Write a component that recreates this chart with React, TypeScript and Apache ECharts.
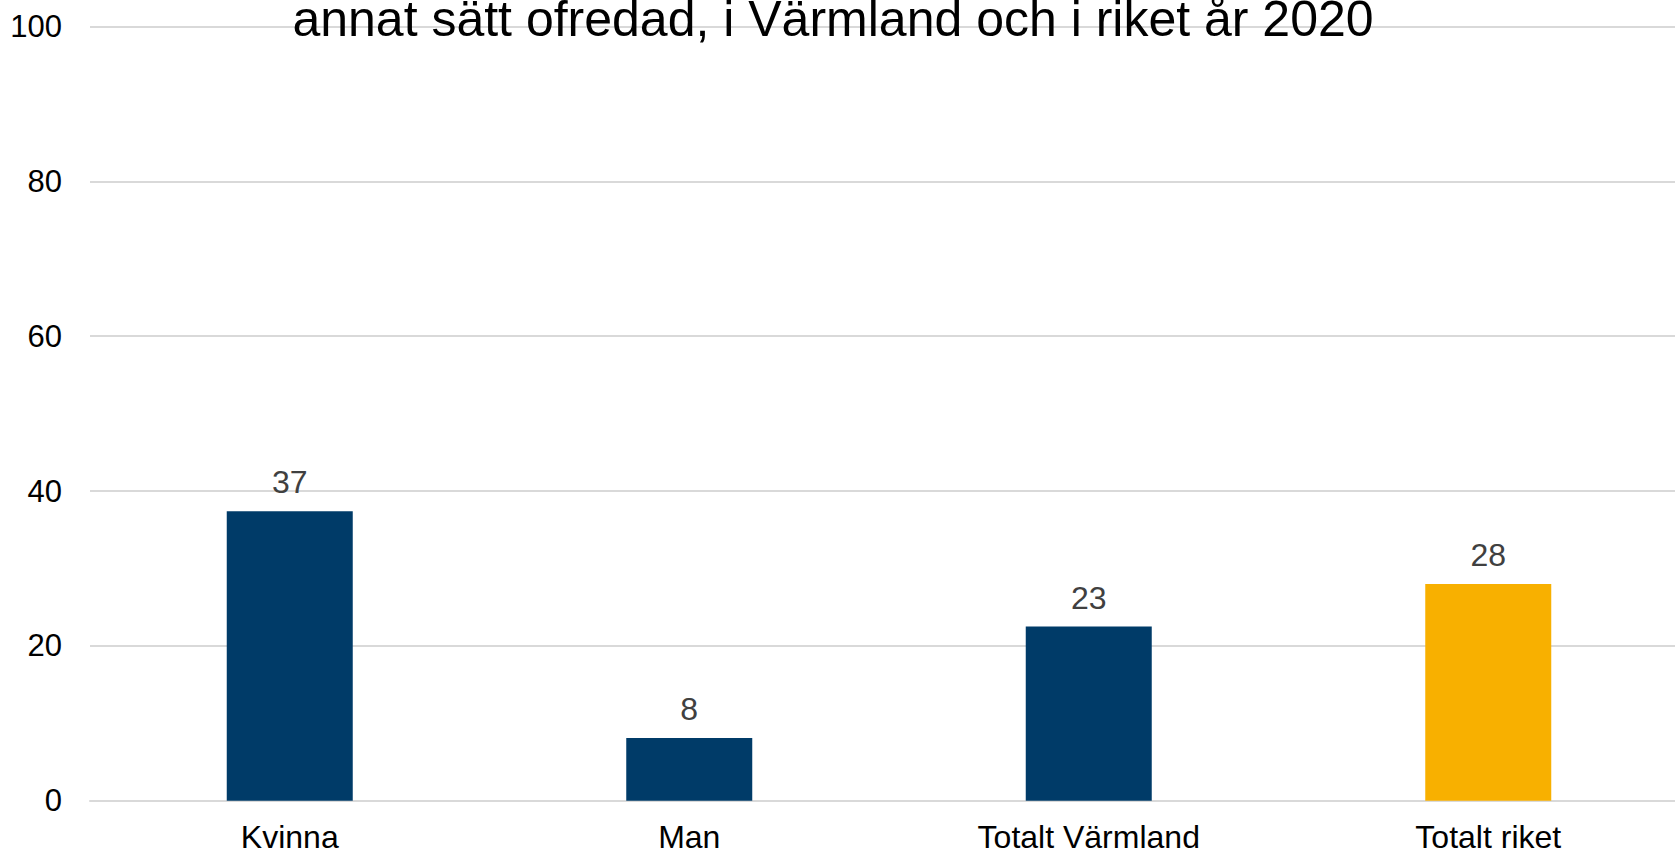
import React, { useEffect, useRef } from "react";
import * as echarts from "echarts";

const titleText = "annat sätt ofredad, i Värmland och i riket år 2020";
const categories = ["Kvinna", "Man", "Totalt Värmland", "Totalt riket"];
const values = [37.4, 8.1, 22.5, 28.0];
const yTicks = { min: 0, max: 100, interval: 20 };

const NAVY = "#003B68";
const YELLOW = "#F8B000";
const FONT = "'Liberation Sans', Arial, sans-serif";

export default function App() {
  const ref = useRef<HTMLDivElement>(null);
  useEffect(() => {
    if (!ref.current) return;
    const chart = echarts.init(ref.current, undefined, { renderer: "svg" });
    chart.setOption({
      animation: false,
      backgroundColor: "#ffffff",
      textStyle: { fontFamily: FONT },
      graphic: [
        {
          type: "text",
          x: 833,
          y: 44,
          style: {
            text: titleText,
            font: `50px ${FONT}`,
            fill: "#000000",
            textAlign: "center",
            textVerticalAlign: "bottom",
          },
          z: 10,
        },
      ],
      grid: { left: 90, top: 26.5, width: 1598, height: 774.2 },
      xAxis: {
        type: "category",
        data: categories,
        axisLine: { show: true, lineStyle: { color: "#d9d9d9", width: 2 } },
        axisTick: { show: false },
        axisLabel: {
          color: "#000000",
          fontSize: 32,
          fontFamily: FONT,
          margin: 20,
          interval: 0,
        },
      },
      yAxis: {
        type: "value",
        min: yTicks.min,
        max: yTicks.max,
        interval: yTicks.interval,
        axisLine: { show: false },
        axisTick: { show: false },
        axisLabel: {
          color: "#000000",
          fontSize: 31,
          fontFamily: FONT,
          margin: 28,
        },
        splitLine: { lineStyle: { color: "#d9d9d9", width: 2 } },
      },
      series: [
        {
          type: "bar",
          barWidth: 126,
          data: values.map((v, i) => ({
            value: v,
            itemStyle: { color: i === categories.length - 1 ? YELLOW : NAVY },
          })),
          label: {
            show: true,
            position: "top",
            distance: 13,
            color: "#404040",
            fontSize: 32,
            fontFamily: FONT,
            formatter: (p: any) => String(Math.round(p.value)),
          },
        },
      ],
    });
    return () => chart.dispose();
  }, []);
  return (
    <div
      style={{
        position: "absolute",
        left: 0,
        top: 0,
        width: 1675,
        height: 854,
        overflow: "hidden",
      }}
    >
      <div ref={ref} style={{ width: 1700, height: 854 }} />
    </div>
  );
}
